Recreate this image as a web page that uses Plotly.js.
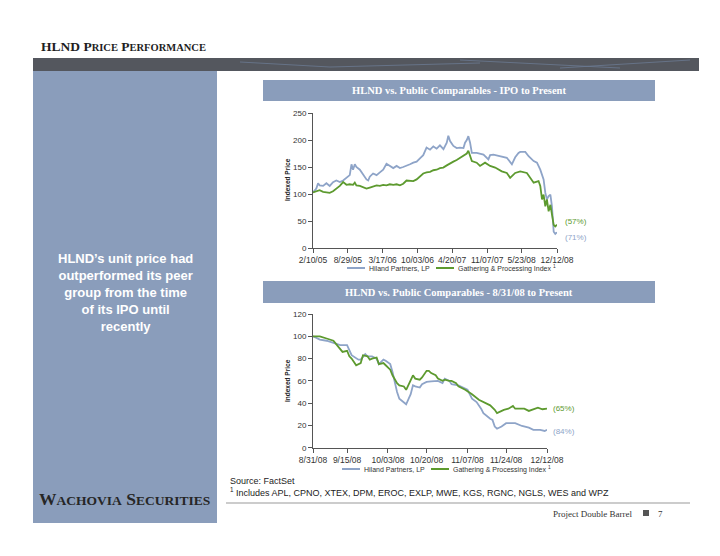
<!DOCTYPE html>
<html><head><meta charset="utf-8">
<script src="https://cdn.plot.ly/plotly-3.0.1.min.js"></script>
<style>html,body{margin:0;padding:0;background:#fff}#chart{width:720px;height:556px}</style>
</head><body><div id="chart"></div>
<script>
// ---------- DATA ----------
const topTickDates = ['2005-02-10','2005-08-29','2006-03-17','2006-10-03','2007-04-20','2007-11-07','2008-05-23','2008-12-12'];
const topTickLabels = ['2/10/05','8/29/05','3/17/06','10/03/06','4/20/07','11/07/07','5/23/08','12/12/08'];

const hlndTopDates = ['2005-02-10','2005-02-20','2005-03-01','2005-03-11','2005-03-20','2005-04-09','2005-04-28','2005-05-17','2005-06-05','2005-06-24','2005-07-14','2005-08-02','2005-08-21','2005-09-09','2005-09-19','2005-09-28','2005-10-08','2005-10-17','2005-11-06','2005-11-25','2005-12-14','2005-12-24','2006-01-02','2006-01-21','2006-02-10','2006-03-01','2006-03-20','2006-04-08','2006-04-27','2006-05-17','2006-06-05','2006-06-24','2006-07-13','2006-08-01','2006-08-21','2006-09-09','2006-09-28','2006-10-17','2006-11-05','2006-11-24','2006-12-14','2007-01-02','2007-01-21','2007-02-09','2007-03-01','2007-03-20','2007-03-29','2007-04-08','2007-04-27','2007-05-16','2007-06-04','2007-06-24','2007-07-03','2007-07-13','2007-07-22','2007-08-01','2007-08-11','2007-09-08','2007-09-27','2007-10-17','2007-11-14','2007-11-24','2007-12-13','2008-01-21','2008-02-28','2008-03-28','2008-04-16','2008-05-05','2008-05-15','2008-06-13','2008-07-02','2008-07-31','2008-08-19','2008-09-07','2008-09-26','2008-10-06','2008-10-15','2008-10-25','2008-11-04','2008-11-13','2008-11-23','2008-12-02','2008-12-12'];
const hlndTopValues = [103,106,110,120,116,115,120,115,122,125,122,125,130,135,155,145,155,150,145,135,127,125,132,138,135,140,145,156,152,148,152,148,150,152,155,158,160,166,172,186,182,188,184,190,183,195,208,198,189,185,186,185,195,200,207,195,176,176,174,173,164,172,173,170,167,155,168,176,178,178,170,161,158,145,127,102,90,96,99,77,30,26,29];

const gpTopDates = ['2005-02-10','2005-03-01','2005-03-20','2005-04-09','2005-04-28','2005-05-17','2005-06-05','2005-06-24','2005-07-14','2005-08-02','2005-08-21','2005-09-09','2005-09-28','2005-10-08','2005-10-17','2005-11-06','2005-11-25','2005-12-14','2006-01-02','2006-01-21','2006-02-10','2006-03-01','2006-03-20','2006-04-08','2006-04-27','2006-05-17','2006-06-05','2006-06-24','2006-07-13','2006-08-01','2006-08-21','2006-09-09','2006-09-28','2006-10-17','2006-11-05','2006-11-24','2006-12-14','2007-01-02','2007-01-21','2007-02-09','2007-02-28','2007-03-20','2007-04-08','2007-04-27','2007-05-16','2007-06-04','2007-06-24','2007-07-13','2007-07-22','2007-08-01','2007-08-11','2007-09-08','2007-09-27','2007-10-26','2007-11-24','2007-12-23','2008-01-30','2008-02-28','2008-03-18','2008-04-16','2008-05-15','2008-06-22','2008-07-11','2008-07-31','2008-08-28','2008-09-07','2008-09-17','2008-09-26','2008-10-06','2008-10-15','2008-10-25','2008-11-04','2008-11-23','2008-12-02','2008-12-12'];
const gpTopValues = [103,105,107,104,103,102,105,110,115,122,117,118,117,121,116,115,113,110,112,114,116,115,117,116,118,117,118,116,119,125,125,124,127,132,138,140,141,144,145,148,149,153,157,160,163,167,172,175,180,170,161,158,152,158,152,149,142,139,130,139,142,139,130,121,124,115,90,99,77,90,68,80,43,40,43];

const botTickDates = ['2008-08-31','2008-09-15','2008-10-03','2008-10-20','2008-11-07','2008-11-24','2008-12-12'];
const botTickLabels = ['8/31/08','9/15/08','10/03/08','10/20/08','11/07/08','11/24/08','12/12/08'];

const hlndBotDates = ['2008-08-31','2008-09-01','2008-09-03','2008-09-06','2008-09-09','2008-09-11','2008-09-12','2008-09-15','2008-09-16','2008-09-17','2008-09-20','2008-09-21','2008-09-23','2008-09-24','2008-09-26','2008-09-28','2008-09-29','2008-10-01','2008-10-02','2008-10-04','2008-10-05','2008-10-06','2008-10-07','2008-10-08','2008-10-10','2008-10-11','2008-10-13','2008-10-14','2008-10-15','2008-10-17','2008-10-18','2008-10-20','2008-10-22','2008-10-24','2008-10-25','2008-10-27','2008-10-28','2008-10-30','2008-10-31','2008-11-03','2008-11-06','2008-11-07','2008-11-09','2008-11-11','2008-11-13','2008-11-14','2008-11-17','2008-11-18','2008-11-19','2008-11-20','2008-11-22','2008-11-24','2008-11-26','2008-11-28','2008-12-01','2008-12-04','2008-12-06','2008-12-09','2008-12-11','2008-12-12'];
const hlndBotValues = [100,99,97,96,94,93,92,92,88,83,79,79,84,82,82,80,75,79,78,75,68,58,50,44,41,39,48,56,55,54,57,59,59.5,60,60,58,62,60,57,56,53,52,44,41,35,31,26,25,19,17,19,22,22,22,19.5,18,16,16,15,16];

const gpBotDates = ['2008-08-31','2008-09-03','2008-09-06','2008-09-09','2008-09-11','2008-09-13','2008-09-15','2008-09-16','2008-09-17','2008-09-19','2008-09-21','2008-09-22','2008-09-24','2008-09-25','2008-09-26','2008-09-28','2008-09-29','2008-10-01','2008-10-02','2008-10-04','2008-10-05','2008-10-07','2008-10-08','2008-10-10','2008-10-11','2008-10-13','2008-10-14','2008-10-15','2008-10-17','2008-10-18','2008-10-20','2008-10-21','2008-10-22','2008-10-24','2008-10-25','2008-10-27','2008-10-28','2008-10-30','2008-10-31','2008-11-02','2008-11-03','2008-11-06','2008-11-09','2008-11-12','2008-11-14','2008-11-17','2008-11-19','2008-11-20','2008-11-23','2008-11-25','2008-11-27','2008-11-28','2008-12-02','2008-12-04','2008-12-08','2008-12-10','2008-12-12'];
const gpBotValues = [100,100,98,96,91,86,87,82,80,74,76,83,82,79,80,81,75,76,74,70,65,58,56,55,52,60,65,62,61,63,69,69,67,65,62,60,61,60,60,58,55,52,48,43,41,38,34,31,34,35,37.5,35,35,33,36,34.5,35];

const topChangeLabels = {hlnd:'(71%)', gp:'(57%)'};
const botChangeLabels = {hlnd:'(84%)', gp:'(65%)'};
const seriesNames = ['Hiland Partners, LP','Gathering & Processing Index'];

// ---------- STYLE ----------
const W=720,H=556;
const px = x => x/W, py = y => 1-y/H;
const BLUE='#8ea4c8', GREEN='#5d9a2f', PANEL='#8a9dbb', BAND='#54575e';
const SANS='Liberation Sans, Arial, sans-serif', SERIF='Liberation Serif, Times New Roman, serif';

const traces = [
  {x:hlndTopDates,y:hlndTopValues,xaxis:'x',yaxis:'y',mode:'lines',line:{color:BLUE,width:1.8},name:seriesNames[0]},
  {x:gpTopDates,y:gpTopValues,xaxis:'x',yaxis:'y',mode:'lines',line:{color:GREEN,width:1.8},name:seriesNames[1]},
  {x:hlndBotDates,y:hlndBotValues,xaxis:'x2',yaxis:'y2',mode:'lines',line:{color:BLUE,width:1.8},name:seriesNames[0]},
  {x:gpBotDates,y:gpBotValues,xaxis:'x2',yaxis:'y2',mode:'lines',line:{color:GREEN,width:1.8},name:seriesNames[1]}
];

function xax(domain, range, tv, tt){
  return {domain, range, type:'date', tickvals:tv, ticktext:tt, ticks:'outside', ticklen:4, tickcolor:'#555',
    showline:true, linecolor:'#555', linewidth:1, showgrid:false, zeroline:false, fixedrange:true,
    tickfont:{family:SANS,size:8.5,color:'#333'}};
}
function yax(domain, range, dtick, anchor){
  return {domain, range, dtick, anchor, ticks:'outside', ticklen:4, tickcolor:'#555',
    showline:true, linecolor:'#555', linewidth:1, showgrid:false, zeroline:false, fixedrange:true,
    tickfont:{family:SANS,size:8,color:'#333'}};
}

const rect = (x0,y0,x1,y1,color) => ({type:'rect',xref:'paper',yref:'paper',x0:px(x0),x1:px(x1),y0:py(y1),y1:py(y0),fillcolor:color,line:{width:0},layer:'below'});
const hline = (x0,x1,y,color,w) => ({type:'line',xref:'paper',yref:'paper',x0:px(x0),x1:px(x1),y0:py(y),y1:py(y),line:{color,width:w}});
const seg = (x0,y0,x1,y1,color,w) => ({type:'line',xref:'paper',yref:'paper',x0:px(x0),x1:px(x1),y0:py(y0),y1:py(y1),line:{color,width:w}});

const shapes = [
  rect(33,58,699,71,BAND),
  seg(240,62,330,67,'#6b7a92',0.8), seg(330,67,480,63,'#6b7a92',0.8), seg(460,60,620,68,'#6b7a92',0.8), seg(560,68,690,60,'#6b7a92',0.8),
  rect(33,71,217,523,PANEL),
  rect(263,80,655,101,PANEL),
  rect(263,281,655,303,PANEL),
  hline(226,690,503,'#999',1),
  rect(643,510,649,516,'#555'),
  // legend line samples
  hline(347,365,268,BLUE,2), hline(436,454,268,GREEN,2),
  hline(342,360,469,BLUE,2), hline(431,449,469,GREEN,2)
];

const ann = (x,y,text,opts={}) => Object.assign({xref:'paper',yref:'paper',x:px(x),y:py(y),text,showarrow:false,xanchor:'left',yanchor:'middle'},opts);

const annotations = [
  ann(39,46,'<b>HLND P<span style="font-size:10.5px">RICE</span> P<span style="font-size:10.5px">ERFORMANCE</span></b>',{font:{family:SERIF,size:13.5,color:'#1e1e1e'}}),
  ann(459,90.5,'<b>HLND vs. Public Comparables - IPO to Present</b>',{xanchor:'center',font:{family:SERIF,size:10.5,color:'#fff'}}),
  ann(459,292,'<b>HLND vs. Public Comparables - 8/31/08 to Present</b>',{xanchor:'center',font:{family:SERIF,size:10.5,color:'#fff'}}),
  ann(126,292,'<b>HLND’s unit price had<br>outperformed its peer<br>group from the time<br>of its IPO until<br>recently</b>',{xanchor:'center',align:'center',font:{family:SANS,size:13,color:'#fff'}}),
  ann(287,180,'<b>Indexed Price</b>',{xanchor:'center',textangle:-90,font:{family:SANS,size:6.5,color:'#222'}}),
  ann(287,381,'<b>Indexed Price</b>',{xanchor:'center',textangle:-90,font:{family:SANS,size:6.5,color:'#222'}}),
  // legends
  ann(367,268,seriesNames[0],{font:{family:SANS,size:7,color:'#333'}}),
  ann(456,268,seriesNames[1]+' <sup>1</sup>',{font:{family:SANS,size:7,color:'#333'}}),
  ann(362,469,seriesNames[0],{font:{family:SANS,size:7,color:'#333'}}),
  ann(451,469,seriesNames[1]+' <sup>1</sup>',{font:{family:SANS,size:7,color:'#333'}}),
  // change labels
  {xref:'x',yref:'y',x:gpTopDates[gpTopDates.length-1],y:gpTopValues[gpTopValues.length-1],text:topChangeLabels.gp,showarrow:false,xanchor:'left',xshift:6,yshift:3,font:{family:SANS,size:8,color:GREEN}},
  {xref:'x',yref:'y',x:hlndTopDates[hlndTopDates.length-1],y:hlndTopValues[hlndTopValues.length-1],text:topChangeLabels.hlnd,showarrow:false,xanchor:'left',xshift:6,yshift:-5,font:{family:SANS,size:8,color:BLUE}},
  {xref:'x2',yref:'y2',x:gpBotDates[gpBotDates.length-1],y:gpBotValues[gpBotValues.length-1],text:botChangeLabels.gp,showarrow:false,xanchor:'left',xshift:4,font:{family:SANS,size:8,color:GREEN}},
  {xref:'x2',yref:'y2',x:hlndBotDates[hlndBotDates.length-1],y:hlndBotValues[hlndBotValues.length-1],text:botChangeLabels.hlnd,showarrow:false,xanchor:'left',xshift:4,yshift:-2,font:{family:SANS,size:8,color:BLUE}},
  // footer
  ann(228,481,'Source: FactSet',{font:{family:SANS,size:9,color:'#222'}}),
  ann(228,492,'<sup>1</sup> Includes APL, CPNO, XTEX, DPM, EROC, EXLP, MWE, KGS, RGNC, NGLS, WES and WPZ',{font:{family:SANS,size:9,color:'#222'}}),
  ann(124,499,'<b>W<span style="font-size:13.5px">ACHOVIA</span> S<span style="font-size:13.5px">ECURITIES</span></b>',{xanchor:'center',font:{family:SERIF,size:17.5,color:'#262626'}}),
  ann(634,514,'Project Double Barrel',{xanchor:'right',font:{family:SERIF,size:9,color:'#333'}}),
  ann(660,514,'7',{xanchor:'center',font:{family:SERIF,size:9,color:'#333'}})
];

const layout = {
  width:W, height:H, margin:{l:0,r:0,t:0,b:0}, paper_bgcolor:'#fff', plot_bgcolor:'rgba(0,0,0,0)', showlegend:false,
  xaxis: Object.assign(xax([px(313),px(557)],['2005-02-10','2008-12-12'],topTickDates,topTickLabels),{anchor:'y'}),
  yaxis: yax([py(248),py(113)],[0,250],50,'x'),
  xaxis2: Object.assign(xax([px(313),px(547)],['2008-08-31','2008-12-12'],botTickDates,botTickLabels),{anchor:'y2'}),
  yaxis2: yax([py(447.7),py(314)],[0,120],20,'x2'),
  shapes, annotations
};
Plotly.newPlot('chart', traces, layout, {staticPlot:true, displayModeBar:false});
</script></body></html>
